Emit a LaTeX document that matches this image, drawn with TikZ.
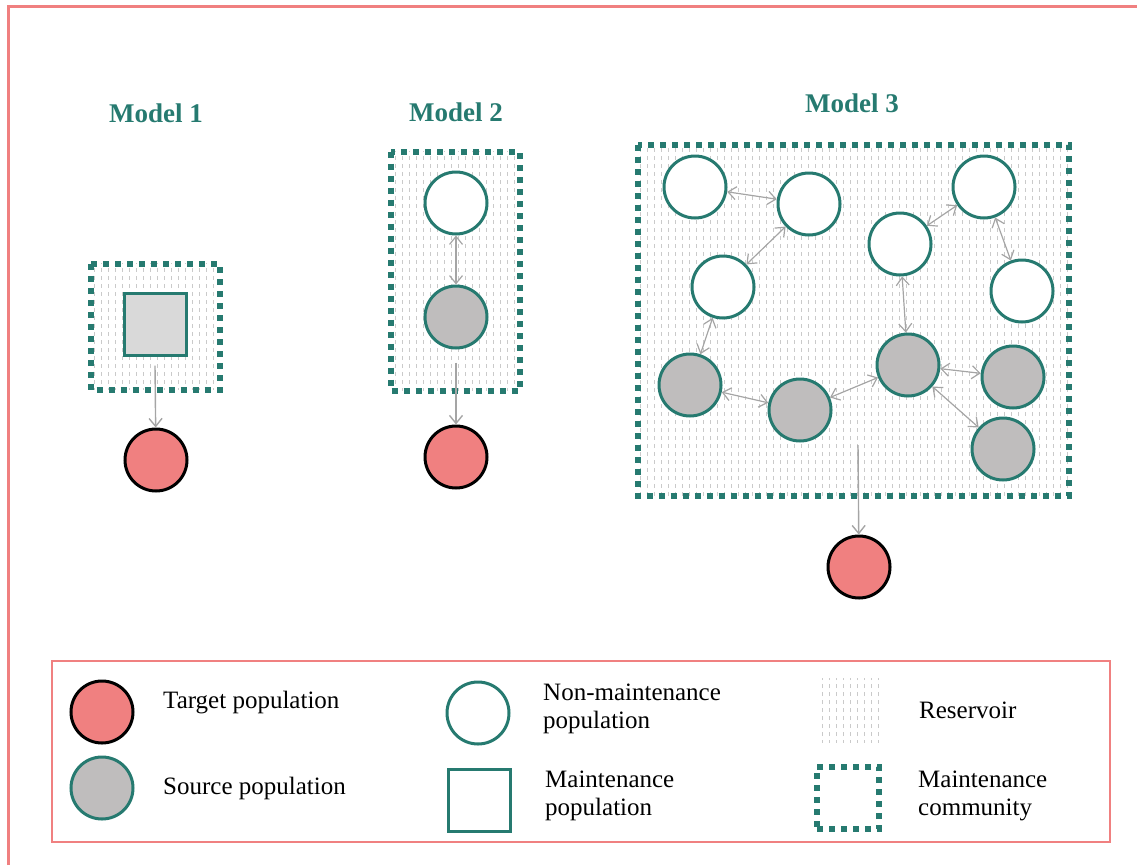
\documentclass[tikz,border=0pt]{standalone}
\usepackage{fontspec}
\setmainfont{Liberation Serif}
\usetikzlibrary{arrows.meta,patterns}

\definecolor{tealc}{RGB}{38,122,112}
\definecolor{targetred}{RGB}{240,128,128}
\definecolor{srcgray}{RGB}{191,189,189}
\definecolor{sqgray}{RGB}{217,217,217}
\definecolor{linkgray}{RGB}{165,165,165}
\definecolor{resgray}{RGB}{202,202,202}

% short vertical dashes for the reservoir
\pgfdeclarepatternformonly{reservoir}{\pgfpoint{-1pt}{-1pt}}{\pgfpoint{8pt}{9pt}}{\pgfpoint{7pt}{8pt}}{%
  \pgfsetlinewidth{1pt}%
  \pgfpathmoveto{\pgfpoint{3pt}{1pt}}%
  \pgfpathlineto{\pgfpoint{3pt}{5pt}}%
  \pgfusepath{stroke}}

\begin{document}
\begin{tikzpicture}[x=1pt, y=-1pt, font=\fontsize{25}{28}\selectfont,
    pop/.style={circle, inner sep=0pt, minimum size=62pt, line width=3pt},
    target/.style={pop, draw=black, fill=targetred},
    source/.style={pop, draw=tealc, fill=srcgray},
    nonmaint/.style={pop, draw=tealc, fill=white},
    maint/.style={rectangle, inner sep=0pt, minimum size=62pt, line width=3pt, draw=tealc},
    community/.style={draw=tealc, line width=6pt, dash pattern=on 6pt off 6pt},
    resfill/.style={pattern=reservoir, pattern color=resgray},
    link/.style={{Straight Barb[length=8pt,width=13pt]}-{Straight Barb[length=8pt,width=13pt]}, draw=linkgray, line width=1.2pt},
    flow/.style={-{Straight Barb[length=8pt,width=13pt]}, draw=linkgray, line width=1.4pt},
    modeltitle/.style={font=\fontsize{27}{30}\selectfont\bfseries, text=tealc},
    legtext/.style={anchor=west, align=left, inner sep=0pt}]
  \useasboundingbox (0,0) rectangle (1137,865);
  \draw[targetred, line width=3pt] (8,865) -- (8,6.5) -- (1137,6.5);

  % Model 1
  \node[modeltitle] (title1) at (156,113) {Model 1};
  \draw[community, resfill] (90.5,263.5) rectangle (219.5,389.5);
  \node[maint, fill=sqgray] (maint1) at (155,324) {};
  \node[target] (tgt1) at (156,460) {};
  \draw[flow] ([yshift=-9pt]maint1.south) -- (tgt1);

  % Model 2
  \node[modeltitle] (title2) at (456,112) {Model 2};
  \draw[community, resfill] (390.5,151.5) rectangle (519.5,390.5);
  \node[nonmaint] (nm2) at (456,203) {};
  \node[source] (src2) at (456,317) {};
  \node[target] (tgt2) at (456,457) {};
  \path[link] (nm2) edge (src2);
  \draw[flow] ([yshift=-13pt]src2.south) -- (tgt2);

  % Model 3
  \node[modeltitle] (title3) at (852,103) {Model 3};
  \draw[community, resfill] (637.5,144.5) rectangle (1068.5,495.5);
  \node[nonmaint] (w1) at (695,187) {};
  \node[nonmaint] (w2) at (809,204) {};
  \node[nonmaint] (w3) at (723,287) {};
  \node[nonmaint] (w4) at (900,244) {};
  \node[nonmaint] (w5) at (984,187) {};
  \node[nonmaint] (w6) at (1022,291) {};
  \node[source] (g1) at (690,385) {};
  \node[source] (g2) at (800,410) {};
  \node[source] (g3) at (908,365) {};
  \node[source] (g4) at (1013,377) {};
  \node[source] (g5) at (1003,449) {};
  \node[target] (tgt3) at (859,567) {};
  \path[link] (w1) edge (w2)
    (w2) edge (w3)
    (w3) edge (g1)
    (g1) edge (g2)
    (g2) edge (g3)
    (g3) edge (w4)
    (w4) edge (w5)
    (w5) edge (w6)
    (g3) edge (g4)
    (g3) edge (g5);
  \coordinate (out3) at (858,445);
  \draw[flow] (out3) -- (tgt3);

  % legend
  \draw[targetred, line width=2.5pt] (52,661) rectangle (1110,842);
  \node[target] (ltgt) at (102,712) {};
  \node[legtext] (ltgttext) at (163,703) {Target population};
  \node[source] (lsrc) at (102,788) {};
  \node[legtext] (lsrctext) at (163,788) {Source population};
  \node[nonmaint] (lnm) at (478,713) {};
  \node[legtext] (lnmtext) at (543,709) {Non-maintenance\\population};
  \node[maint] (lmaint) at (479.5,800.5) {};
  \node[legtext] (lmainttext) at (545,796) {Maintenance\\population};
  \node[resfill, minimum size=64pt, inner sep=0pt] (lres) at (850,710) {};
  \node[legtext] (lrestext) at (919,710) {Reservoir};
  \node[community, minimum size=62pt, inner sep=0pt] (lcomm) at (848,798) {};
  \node[legtext] (lcommtext) at (918,796) {Maintenance\\community};
\end{tikzpicture}
\end{document}
